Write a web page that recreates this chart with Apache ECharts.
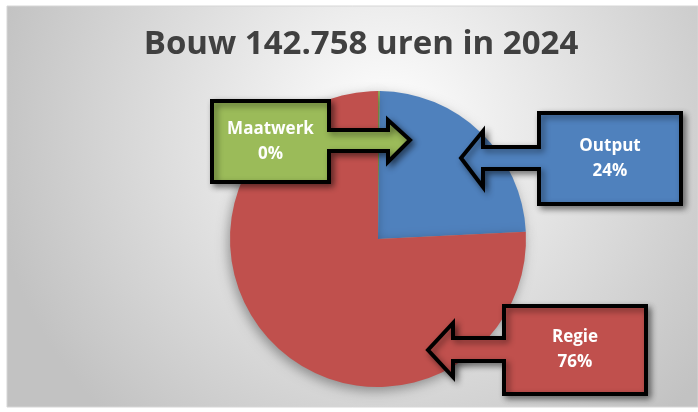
<!DOCTYPE html>
<html>
<head>
<meta charset="utf-8">
<script src="https://cdn.jsdelivr.net/npm/echarts@6/dist/echarts.min.js"></script>
<style>
  html, body { margin: 0; padding: 0; background: #fff; }
  #chart { width: 698px; height: 412px; }
</style>
</head>
<body>
<div id="chart"></div>
<script>
// data
var titleText = 'Bouw 142.758 uren in 2024';
var categories = ['Maatwerk', 'Output', 'Regie'];
var hours = [300, 34262, 108196];
var colors = ['#9BBB59', '#4F81BD', '#C0504D'];

var total = hours.reduce(function (a, b) { return a + b; }, 0);
var pct = hours.map(function (v) { return Math.round(v / total * 100) + '%'; });

// callout shapes (box + arrow), one per category
var callouts = [
  { dir: 'right', box: [212, 101, 329, 182], shaft: [130, 151], head: [388, 120, 162], tip: [410, 140] },
  { dir: 'left', box: [539, 113, 681, 204], shaft: [147, 169], head: [483, 131, 187], tip: [461, 158] },
  { dir: 'left', box: [504, 306, 646, 394], shaft: [338, 361], head: [453, 323, 377], tip: [428, 350] }
];

function calloutPoints(c) {
  var x0 = c.box[0], y0 = c.box[1], x1 = c.box[2], y1 = c.box[3];
  if (c.dir === 'left') {
    return [[x1, y0], [x0, y0], [x0, c.shaft[0]], [c.head[0], c.shaft[0]], [c.head[0], c.head[1]],
      [c.tip[0], c.tip[1]], [c.head[0], c.head[2]], [c.head[0], c.shaft[1]], [x0, c.shaft[1]],
      [x0, y1], [x1, y1]];
  }
  return [[x0, y0], [x1, y0], [x1, c.shaft[0]], [c.head[0], c.shaft[0]], [c.head[0], c.head[1]],
    [c.tip[0], c.tip[1]], [c.head[0], c.head[2]], [c.head[0], c.shaft[1]], [x1, c.shaft[1]],
    [x1, y1], [x0, y1]];
}

var graphics = [{
  type: 'rect',
  z: -10,
  shape: { x: 7, y: 6, width: 691, height: 401 },
  style: {
    fill: new echarts.graphic.RadialGradient(0.55, 0.3, 1.0, [
      { offset: 0, color: '#ffffff' },
      { offset: 1, color: '#c2c2c2' }
    ]),
    stroke: '#d6d6d6',
    lineWidth: 1
  }
}];

callouts.forEach(function (c, i) {
  graphics.push({
    type: 'polygon',
    z: 100,
    shape: { points: calloutPoints(c) },
    style: {
      fill: colors[i],
      stroke: '#000',
      lineWidth: 4,
      lineJoin: 'miter',
      shadowBlur: 6,
      shadowOffsetX: 3,
      shadowOffsetY: 3,
      shadowColor: 'rgba(0,0,0,0.45)'
    }
  });
  graphics.push({
    type: 'text',
    z: 101,
    x: (c.box[0] + c.box[2]) / 2,
    y: (c.box[1] + c.box[3]) / 2,
    style: {
      text: categories[i] + '\n' + pct[i],
      fill: '#fff',
      font: 'bold 17px "Open Sans"',
      lineHeight: 25,
      align: 'center',
      verticalAlign: 'middle'
    }
  });
});

var myChart = echarts.init(document.getElementById('chart'));

var option = {
  animation: false,
  title: {
    text: titleText,
    left: 356,
    top: 23,
    textAlign: 'center',
    textStyle: {
      color: '#404040',
      fontSize: 33,
      fontWeight: 'bold',
      fontFamily: 'Open Sans'
    }
  },
  graphic: graphics,
  series: [
    {
      type: 'pie',
      center: [378, 239],
      radius: 148,
      startAngle: 90,
      clockwise: true,
      label: { show: false },
      labelLine: { show: false },
      itemStyle: {
        shadowBlur: 12,
        shadowOffsetX: -2,
        shadowOffsetY: 4,
        shadowColor: 'rgba(0,0,0,0.35)'
      },
      data: categories.map(function (name, i) {
        return { name: name, value: hours[i], itemStyle: { color: colors[i] } };
      })
    }
  ]
};

myChart.setOption(option);
</script>
</body>
</html>
